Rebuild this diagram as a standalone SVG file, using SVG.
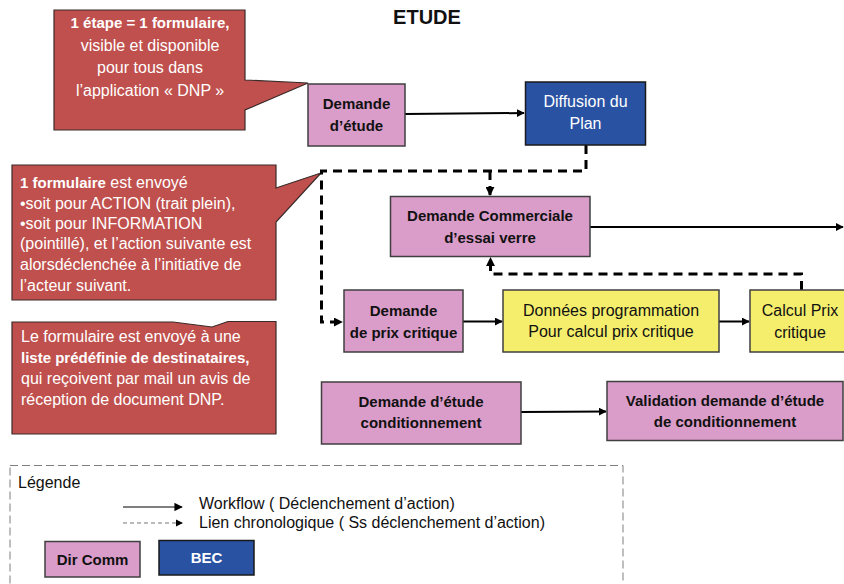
<svg xmlns="http://www.w3.org/2000/svg" width="844" height="584" viewBox="0 0 844 584">
<defs>
<style>
.t{font-family:"Liberation Sans",Arial,sans-serif;}
.b{font-weight:bold;}
.call{fill:#C0504D;stroke:#3a2a2a;stroke-width:1.2;}
.ct{fill:#fff;font-size:16px;}
.pink{fill:#DA9CC9;stroke:#3f3f3f;stroke-width:1.5;}
.blue{fill:#2A52A3;stroke:#1a1a1a;stroke-width:1.5;}
.yel{fill:#F4EE6C;stroke:#3f3f3f;stroke-width:1.5;}
.nt{font-size:15px;fill:#111;text-anchor:middle;}
.nr{font-size:16px;}
.solid{fill:none;stroke:#000;stroke-width:2;}
.dash{fill:none;stroke:#000;stroke-width:3;stroke-dasharray:9 6;}
.lt{font-size:16px;fill:#111;}
</style>
<marker id="ah" viewBox="0 0 10 10" refX="9" refY="5" markerWidth="4" markerHeight="4" orient="auto" markerUnits="strokeWidth">
<path d="M0,0 L10,5 L0,10 z" fill="#000"/>
</marker>
<marker id="ahd" viewBox="0 0 10 10" refX="9" refY="5" markerWidth="3" markerHeight="3" orient="auto" markerUnits="strokeWidth">
<path d="M0,0 L10,5 L0,10 z" fill="#000"/>
</marker>
<marker id="ahl" viewBox="0 0 10 10" refX="9" refY="5" markerWidth="7" markerHeight="7" orient="auto" markerUnits="strokeWidth">
<path d="M0,0 L10,5 L0,10 z" fill="#000"/>
</marker>
</defs>
<rect width="844" height="584" fill="#fff"/>
<text class="t b" x="427" y="24" font-size="20" text-anchor="middle" fill="#111">ETUDE</text>

<g id="callout1">
<path class="call" d="M54,10 H245 V80 L308,83 L245,110 V130 H54 Z"/>
<text class="t ct" text-anchor="middle"><tspan x="150" y="28" font-weight="bold" font-size="15">1 étape = 1 formulaire,</tspan><tspan x="150" y="51">visible et disponible</tspan><tspan x="150" y="73">pour tous dans</tspan><tspan x="150" y="96">l’application « DNP »</tspan></text>
</g>

<g id="callout2">
<path class="call" d="M12,165 H276 V188 L321,173 L276,222 V300 H12 Z"/>
<text class="t ct"><tspan x="20" y="188"><tspan font-weight="bold" font-size="15">1 formulaire</tspan> est envoyé</tspan><tspan x="20" y="209">•soit pour ACTION (trait plein),</tspan><tspan x="20" y="229">•soit pour INFORMATION</tspan><tspan x="20" y="249">(pointillé), et l’action suivante est</tspan><tspan x="20" y="270">alorsdéclenchée à l’initiative de</tspan><tspan x="20" y="291">l’acteur suivant.</tspan></text>
</g>

<g id="callout3">
<path class="call" d="M12,322 H173 L212,327 L228,321.5 H276 V434 H12 Z"/>
<text class="t ct"><tspan x="21" y="342">Le formulaire est envoyé à une</tspan><tspan x="21" y="363" font-weight="bold" font-size="15">liste prédéfinie de destinataires,</tspan><tspan x="21" y="384">qui reçoivent par mail un avis de</tspan><tspan x="21" y="405">réception de document DNP.</tspan></text>
</g>

<g id="connectors">
<path class="solid" d="M405,114 L524,113" marker-end="url(#ah)"/>
<path class="dash" d="M586,145 V171 H321.5 V322 H342" marker-end="url(#ahd)"/>
<path class="dash" d="M490,171 V195" marker-end="url(#ahd)"/>
<path class="dash" d="M801.5,290 V274 H490.5 V258" marker-end="url(#ahd)"/>
<path class="solid" d="M590,227 H843" marker-end="url(#ah)"/>
<path class="solid" d="M463,321.5 H502" marker-end="url(#ah)"/>
<path class="solid" d="M719,321.5 H749" marker-end="url(#ah)"/>
<path class="solid" d="M521,412 L606,411.5" marker-end="url(#ah)"/>
</g>

<g id="demande-etude">
<rect class="pink" x="308" y="84" width="97" height="62"/>
<text class="t b nt"><tspan x="356.5" y="109">Demande</tspan><tspan x="356.5" y="131">d’étude</tspan></text>
</g>
<g id="diffusion-plan">
<rect class="blue" x="525.5" y="82" width="120" height="63"/>
<text class="t nt nr" style="fill:#fff"><tspan x="585.5" y="107">Diffusion du</tspan><tspan x="585.5" y="129">Plan</tspan></text>
</g>
<g id="demande-commerciale">
<rect class="pink" x="390.5" y="196.5" width="199.5" height="60"/>
<text class="t b nt"><tspan x="490" y="221">Demande Commerciale</tspan><tspan x="490" y="243">d’essai verre</tspan></text>
</g>
<g id="demande-prix">
<rect class="pink" x="344" y="290" width="119" height="62"/>
<text class="t b nt"><tspan x="403.5" y="316">Demande</tspan><tspan x="403.5" y="338">de prix critique</tspan></text>
</g>
<g id="donnees-programmation">
<rect class="yel" x="503" y="290" width="216" height="62"/>
<text class="t nt nr"><tspan x="611" y="316">Données programmation</tspan><tspan x="611" y="337">Pour calcul prix critique</tspan></text>
</g>
<g id="calcul-prix">
<rect class="yel" x="750" y="290" width="100" height="62"/>
<text class="t nt nr"><tspan x="800" y="316">Calcul Prix</tspan><tspan x="800" y="338">critique</tspan></text>
</g>
<g id="demande-conditionnement">
<rect class="pink" x="321.5" y="382" width="199.5" height="62"/>
<text class="t b nt"><tspan x="421" y="407">Demande d’étude</tspan><tspan x="421" y="428">conditionnement</tspan></text>
</g>
<g id="validation-conditionnement">
<rect class="pink" x="607" y="381.5" width="236" height="59"/>
<text class="t b nt"><tspan x="725" y="406">Validation demande d’étude</tspan><tspan x="725" y="427">de conditionnement</tspan></text>
</g>

<g id="legende">
<rect x="10" y="465.5" width="613" height="130" fill="none" stroke="#7f7f7f" stroke-width="1" stroke-dasharray="8 4"/>
<text class="t lt" x="18" y="488">Légende</text>
<path d="M123,507 H182" stroke="#000" stroke-width="1.2" fill="none" marker-end="url(#ahl)"/>
<path d="M123,523 H182" stroke="#777" stroke-width="1.2" stroke-dasharray="4 3" fill="none"/>
<path d="M176,519.5 L183,523 L176,526.5 Z" fill="#000"/>
<text class="t lt" x="199" y="509">Workflow ( Déclenchement d’action)</text>
<text class="t lt" x="199" y="528">Lien chronologique ( Ss déclenchement d’action)</text>
<g id="leg-dircomm">
<rect class="pink" x="45" y="541.5" width="95" height="35.5"/>
<text class="t b" x="92.5" y="565" font-size="15" text-anchor="middle" fill="#111">Dir Comm</text>
</g>
<g id="leg-bec">
<rect class="blue" x="159" y="540.5" width="95" height="34.5"/>
<text class="t b" x="206.5" y="563" font-size="15" text-anchor="middle" fill="#fff">BEC</text>
</g>
</g>
</svg>
